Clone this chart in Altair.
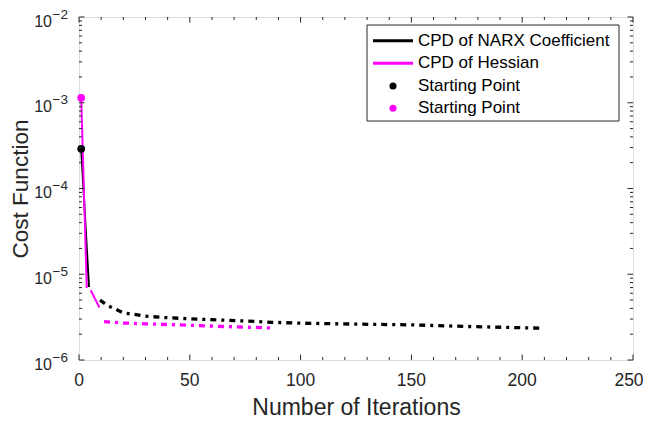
import altair as alt
import pandas as pd

# ---------------- data ----------------
# CPD of NARX Coefficient (black)
narx_solid_x = [1, 4.5]
narx_solid_y = [2.9e-4, 7.1e-6]
narx_dash_x = [9.5, 13, 20, 30, 38, 50, 60, 75, 87, 100, 125, 150, 175, 209]
narx_dash_y = [5.0e-6, 4.3e-6, 3.55e-6, 3.25e-6, 3.13e-6, 3.02e-6, 2.95e-6,
               2.85e-6, 2.75e-6, 2.69e-6, 2.62e-6, 2.57e-6, 2.46e-6, 2.35e-6]

# CPD of Hessian (magenta)
hess_solid_x = [1, 3.5]
hess_solid_y = [1.14e-3, 6.9e-6]
hess_mid_x = [5.3, 9.2]
hess_mid_y = [6.5e-6, 4.1e-6]
hess_dash_x = [11.3, 20, 30, 45, 65, 88]
hess_dash_y = [2.8e-6, 2.7e-6, 2.64e-6, 2.57e-6, 2.46e-6, 2.36e-6]

# starting points
start_x = [1, 1]
start_y = [2.9e-4, 1.14e-3]
start_series = ["NARX", "Hessian"]

# axes
x_major = [0, 50, 100, 150, 200, 250]
x_labels = ["0", "50", "100", "150", "200", "250"]
x_minor = [v for v in range(0, 251, 10) if v % 50 != 0]
y_decades = [1e-6, 1e-5, 1e-4, 1e-3, 1e-2]
y_exponents = ["\u22126", "\u22125", "\u22124", "\u22123", "\u22122"]
y_minor = [m * d for d in [1e-6, 1e-5, 1e-4, 1e-3] for m in range(2, 10)]

legend_labels = ["CPD of NARX Coefficient", "CPD of Hessian", "Starting Point", "Starting Point"]
legend_colors = ["#000000", "#FF00FF", "#000000", "#FF00FF"]
legend_kinds = ["line", "line", "dot", "dot"]

# ---------------- layout / style ----------------
W, H = 554, 343
TXT = "#262626"
FONT = "Liberation Sans"
MAG = "#FF00FF"


def seg_df(xs, ys, seg, style):
    return pd.DataFrame({"x": xs, "y": ys, "seg": seg, "style": style})


narx_df = pd.concat([seg_df(narx_solid_x, narx_solid_y, "a", "solid"),
                     seg_df(narx_dash_x, narx_dash_y, "b", "dashdot")])
hess_df = pd.concat([seg_df(hess_solid_x, hess_solid_y, "a", "solid"),
                     seg_df(hess_mid_x, hess_mid_y, "b", "solid"),
                     seg_df(hess_dash_x, hess_dash_y, "c", "dashdot")])
start_df = pd.DataFrame({"x": start_x, "y": start_y, "series": start_series})

xscale = alt.Scale(domain=[0, 250], nice=False, zero=False)
yscale = alt.Scale(type="log", domain=[1e-6, 1e-2], nice=False)
dash_scale = alt.Scale(domain=["solid", "dashdot"], range=[[1, 0], [6, 5, 3, 5]])

x_axis = alt.Axis(values=x_major, ticks=False, tickSize=0, domain=False, grid=False,
                  labels=False, minExtent=0,
                  title="Number of Iterations", titleFont=FONT, titleFontSize=23,
                  titleFontWeight="normal", titleColor=TXT, titleX=W / 2, titleY=47,
                  titleBaseline="middle", titleAlign="center")
y_axis = alt.Axis(labels=False, ticks=False, domain=False, grid=False, minExtent=0,
                  title="Cost Function", titleFont=FONT, titleFontSize=22.5,
                  titleFontWeight="normal", titleColor=TXT, titleX=-58.5, titleY=H / 2,
                  titleAngle=270, titleBaseline="middle", titleAlign="center")

narx_line = alt.Chart(narx_df).mark_line(color="black").encode(
    x=alt.X("x:Q", scale=xscale, axis=x_axis),
    y=alt.Y("y:Q", scale=yscale, axis=y_axis),
    detail="seg:N",
    strokeDash=alt.StrokeDash("style:N", scale=dash_scale, legend=None),
    strokeWidth=alt.StrokeWidth("style:N", scale=alt.Scale(domain=["solid", "dashdot"], range=[2, 3.3]),
                                legend=None),
)
hess_line = alt.Chart(hess_df).mark_line(color=MAG).encode(
    x=alt.X("x:Q", scale=xscale),
    y=alt.Y("y:Q", scale=yscale),
    detail="seg:N",
    strokeDash=alt.StrokeDash("style:N", scale=dash_scale, legend=None),
    strokeWidth=alt.StrokeWidth("style:N", scale=alt.Scale(domain=["solid", "dashdot"], range=[3, 3.3]),
                                legend=None),
)
start_pts = alt.Chart(start_df).mark_point(filled=True, size=60, opacity=1).encode(
    x=alt.X("x:Q", scale=xscale),
    y=alt.Y("y:Q", scale=yscale),
    color=alt.Color("series:N", scale=alt.Scale(domain=["NARX", "Hessian"], range=["#000000", MAG]),
                    legend=None),
)

# inward ticks (MATLAB style)
xmaj_df = pd.DataFrame({"x": x_major})
xmin_df = pd.DataFrame({"x": x_minor})
ymaj_df = pd.DataFrame({"y": y_decades})
ymin_df = pd.DataFrame({"y": y_minor})

tick_layers = []
for d, ln in [(xmaj_df, 5.5), (xmin_df, 3)]:
    tick_layers.append(alt.Chart(d).mark_rule(color=TXT, strokeWidth=1).encode(
        x=alt.X("x:Q", scale=xscale), y=alt.value(H), y2=alt.value(H - ln)))
    tick_layers.append(alt.Chart(d).mark_rule(color=TXT, strokeWidth=1).encode(
        x=alt.X("x:Q", scale=xscale), y=alt.value(0), y2=alt.value(ln)))
for d, ln in [(ymaj_df, 5.5), (ymin_df, 3)]:
    tick_layers.append(alt.Chart(d).mark_rule(color=TXT, strokeWidth=1).encode(
        y=alt.Y("y:Q", scale=yscale), x=alt.value(0), x2=alt.value(ln)))
    tick_layers.append(alt.Chart(d).mark_rule(color=TXT, strokeWidth=1).encode(
        y=alt.Y("y:Q", scale=yscale), x=alt.value(W), x2=alt.value(W - ln)))

# x tick labels (last one nudged so it stays inside the page)
xlab_df = pd.DataFrame({"x": x_major, "label": x_labels})
xlab_main = alt.Chart(xlab_df.iloc[:-1]).mark_text(font=FONT, fontSize=17.5, color=TXT, align="center",
                                                  baseline="top").encode(
    x=alt.X("x:Q", scale=xscale), y=alt.value(H + 12), text="label:N")
xlab_last = alt.Chart(xlab_df.iloc[-1:]).mark_text(font=FONT, fontSize=17.5, color=TXT, align="center",
                                                  baseline="top", dx=-4).encode(
    x=alt.X("x:Q", scale=xscale), y=alt.value(H + 12), text="label:N")

# y tick labels 10^k
ylab_df = pd.DataFrame({"y": y_decades, "exp": y_exponents})
ylab_base = alt.Chart(ylab_df).mark_text(font=FONT, fontSize=16, color=TXT, align="right",
                                          baseline="middle", dy=4.5).encode(
    y=alt.Y("y:Q", scale=yscale), x=alt.value(-27), text=alt.value("10"))
ylab_exp = alt.Chart(ylab_df).mark_text(font=FONT, fontSize=13.5, color=TXT, align="left",
                                         baseline="middle", dy=-2.5).encode(
    y=alt.Y("y:Q", scale=yscale), x=alt.value(-26.5), text="exp:N")

# legend
LX0, LX1, LY0, LY1 = 288, 540, 8, 104
one = pd.DataFrame({"k": [0]})
legend_layers = [alt.Chart(one).mark_rect(fill="white", stroke=TXT, strokeWidth=1).encode(
    x=alt.value(LX0), x2=alt.value(LX1), y=alt.value(LY0), y2=alt.value(LY1))]
row_y = [23.7, 46.3, 69, 91.3]
for lab, col, kind, ry in zip(legend_labels, legend_colors, legend_kinds, row_y):
    if kind == "line":
        legend_layers.append(alt.Chart(one).mark_rule(color=col, strokeWidth=3).encode(
            x=alt.value(294), x2=alt.value(334), y=alt.value(ry)))
    else:
        legend_layers.append(alt.Chart(one).mark_point(filled=True, size=50, color=col, opacity=1).encode(
            x=alt.value(314), y=alt.value(ry)))
    legend_layers.append(alt.Chart(one).mark_text(font=FONT, fontSize=17, color="black", align="left",
                                                 baseline="middle").encode(
        x=alt.value(339), y=alt.value(ry), text=alt.value(lab)))

chart = alt.layer(
    narx_line, hess_line, start_pts, *tick_layers, xlab_main, xlab_last, ylab_base, ylab_exp,
    *legend_layers
).properties(
    width=W, height=H,
    autosize=alt.AutoSizeParams(type="none"),
    padding={"left": 71, "top": 9, "right": 10, "bottom": 61},
).configure_view(stroke=TXT, strokeWidth=1).configure(background="white")

chart.save("out.html", embed_options={"renderer": "svg", "actions": False})
